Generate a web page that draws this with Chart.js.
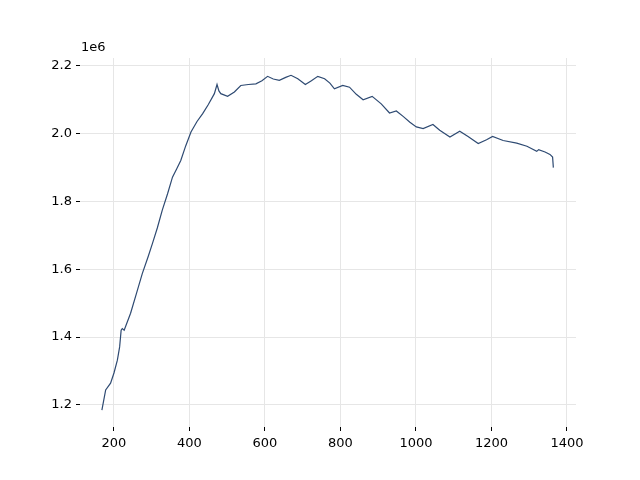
<!DOCTYPE html>
<html>
<head>
<meta charset="utf-8">
<script src="https://cdn.jsdelivr.net/npm/chart.js@4"></script>
<style>
    html, body { margin: 0; padding: 0; background: #fff; }
    #wrap { width: 640px; height: 480px; }
</style>
</head>
<body>
<div id="wrap"><canvas id="line-chart" width="640" height="480"></canvas></div>
<script>
// values (y in units of 1e6)
const xValues = [168, 178, 191, 200, 209, 215, 219, 222, 227, 244, 260, 275, 290, 302, 315, 328, 342, 355, 366, 377,
    390, 404, 420, 435, 450, 466, 473, 478, 483, 501, 519, 536, 556, 576, 592, 607, 622, 638, 655, 669,
    687, 707, 723, 740, 758, 772, 784, 806, 824, 842, 860, 884, 908, 930, 948, 966, 984, 1001, 1019, 1045,
    1063, 1090, 1116, 1138, 1165, 1187, 1203, 1231, 1267, 1294, 1320, 1325, 1342, 1355, 1362, 1364];
const yValues = [1.185, 1.244, 1.264, 1.294, 1.332, 1.371, 1.420, 1.425, 1.420, 1.470, 1.530, 1.587, 1.635, 1.676, 1.722, 1.774, 1.822, 1.871, 1.895, 1.920,
    1.963, 2.004, 2.035, 2.058, 2.085, 2.117, 2.144, 2.125, 2.117, 2.109, 2.122, 2.141, 2.144, 2.146, 2.155, 2.168, 2.160, 2.156, 2.165, 2.171,
    2.161, 2.144, 2.155, 2.168, 2.161, 2.148, 2.131, 2.141, 2.136, 2.115, 2.099, 2.109, 2.087, 2.060, 2.066, 2.050, 2.033, 2.019, 2.014, 2.026,
    2.009, 1.989, 2.006, 1.991, 1.970, 1.981, 1.991, 1.979, 1.971, 1.962, 1.947, 1.952, 1.945, 1.938, 1.930, 1.899];
const xTicks = [200, 400, 600, 800, 1000, 1200, 1400];
const yTicks = [1.2, 1.4, 1.6, 1.8, 2.0, 2.2];
const offsetLabel = "1e6";

(function(){
    "use strict";

    const font = { family: "'DejaVu Sans', sans-serif", size: 13 };

    const offsetText = {
        id: "offsetText",
        afterDraw(chart) {
            const ctx = chart.ctx;
            const area = chart.chartArea;
            ctx.save();
            ctx.font = "13px 'DejaVu Sans', sans-serif";
            ctx.fillStyle = "#000";
            ctx.textAlign = "left";
            ctx.textBaseline = "bottom";
            ctx.fillText(offsetLabel, area.left + 1, area.top - 4);
            ctx.restore();
        }
    };

    let ctx = document.getElementById("line-chart").getContext("2d");
    let myChart = new Chart(ctx, {
        type: "line",
        data: {
            datasets: [
                {
                    data: xValues.map((x, i) => ({ x: x, y: yValues[i] })),
                    borderWidth: 1.2,
                    borderColor: "#2e4a72",
                    backgroundColor: "transparent",
                    pointRadius: 0,
                    tension: 0,
                },
            ],
        },
        options: {
            responsive: false,
            animation: false,
            layout: {
                padding: { left: 30, top: 58, right: 64, bottom: 23 },
            },
            plugins: {
                legend: { display: false },
                tooltip: { enabled: false },
            },
            scales: {
                x: {
                    type: "linear",
                    min: 110,
                    max: 1424,
                    afterBuildTicks: (scale) => { scale.ticks = xTicks.map(v => ({ value: v })); },
                    afterFit: (scale) => { scale.height = 30; },
                    ticks: {
                        font: font,
                        color: "#000",
                        padding: 5,
                        maxRotation: 0,
                        callback: (v) => String(v),
                    },
                    grid: {
                        color: "#e6e6e6",
                        tickColor: "#000",
                        tickLength: 4,
                    },
                    border: { display: false },
                },
                y: {
                    min: 1.135,
                    max: 2.222,
                    afterBuildTicks: (scale) => { scale.ticks = yTicks.map(v => ({ value: v })); },
                    afterFit: (scale) => { scale.width = 50; },
                    ticks: {
                        font: font,
                        color: "#000",
                        padding: 4,
                        callback: (v) => v.toFixed(1),
                    },
                    grid: {
                        color: "#e6e6e6",
                        tickColor: "#000",
                        tickLength: 4,
                    },
                    border: { display: false },
                },
            },
        },
        plugins: [offsetText],
    });
})();
</script>
</body>
</html>
